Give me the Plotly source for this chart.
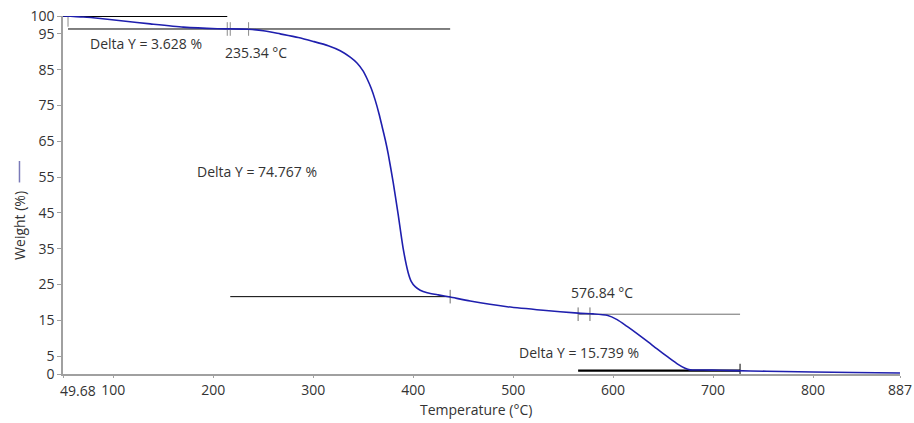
import plotly.graph_objects as go

# --- data ---
temperature = [49.68, 70, 87, 110, 137, 170, 204, 235, 250, 267, 285, 300, 315, 327, 337, 344,
               350, 354, 358, 362, 366, 369, 372, 375, 380, 385, 390, 395, 398, 402, 407, 414,
               425, 437, 457, 494, 530, 565, 580, 594, 604, 614, 624, 634, 644, 655, 665, 672,
               677, 690, 707, 737, 770, 800, 840, 887]
weight = [100.0, 99.7, 99.3, 98.6, 97.8, 96.9, 96.45, 96.3, 95.9, 95.0, 94.0, 92.9, 91.7, 90.3,
          88.5, 86.8, 84.6, 82.4, 79.8, 76.5, 72.5, 69.0, 65.5, 61.5, 53.5, 44.5, 35.0, 28.3,
          25.9, 24.4, 23.4, 22.7, 22.1, 21.5, 20.4, 18.8, 17.8, 17.0, 16.8, 16.4, 15.2, 13.3,
          11.3, 9.2, 7.0, 4.7, 2.7, 1.6, 1.15, 1.1, 1.05, 0.85, 0.7, 0.55, 0.4, 0.3]

x_start = 49.68
x_start_label = "49.68"
x_tickvals = [49.68, 100, 200, 300, 400, 500, 600, 700, 800, 887]
x_ticktext = ["", "100", "200", "300", "400", "500", "600", "700", "800", "887"]
y_tickvals = [0, 5, 15, 25, 35, 45, 55, 65, 75, 85, 95, 100]

# analysis baselines: (x_start, x_end, level, width, colour)
baseline_x0 = [49.68, 54.7, 217, 565, 565]
baseline_x1 = [214, 437, 437, 727, 727]
baseline_y = [100.0, 96.372, 21.605, 16.7, 0.961]
baseline_w = [2, 1, 1, 1, 2.2]
baseline_c = ["#000000", "#000000", "#000000", "#6e6e6e", "#000000"]

# small vertical markers: (x, level)
marker_x = [54.7, 214, 217, 235.34, 437, 565, 576.84, 727]
marker_y = [98.9, 96.372, 96.372, 96.372, 21.605, 16.7, 16.7, 0.961]
marker_c = ["#8a8a8a", "#8a8a8a", "#8a8a8a", "#8a8a8a", "#6e6e6e", "#6e6e6e", "#6e6e6e", "#000000"]

labels_text = ["Delta Y = 3.628 %", "235.34 °C", "Delta Y = 74.767 %", "576.84 °C", "Delta Y = 15.739 %"]
labels_x = [75, 210, 182, 556, 504]
labels_y = [92.2, 89.9, 56.5, 22.9, 6.1]

FONT = "Open Sans"
TXT = "#333333"
FS = 14

fig = go.Figure()

for x0, x1, yv, w, c in zip(baseline_x0, baseline_x1, baseline_y, baseline_w, baseline_c):
    fig.add_trace(go.Scatter(x=[x0, x1], y=[yv, yv], mode="lines",
                             line=dict(color=c, width=w), showlegend=False, hoverinfo="skip"))

for xm, ym, c in zip(marker_x, marker_y, marker_c):
    fig.add_trace(go.Scatter(x=[xm, xm], y=[ym - 1.9, ym + 1.9], mode="lines",
                             line=dict(color=c, width=1), showlegend=False, hoverinfo="skip"))

fig.add_trace(go.Scatter(x=temperature, y=weight, mode="lines",
                         line=dict(color="#1f1fae", width=1.6, shape="spline", smoothing=0.6),
                         showlegend=False, name="Weight"))

for t, xv, yv in zip(labels_text, labels_x, labels_y):
    fig.add_annotation(x=xv, y=yv, text=t, showarrow=False, xanchor="left", yanchor="middle",
                       font=dict(family=FONT, size=FS, color=TXT))

# first x tick label, nudged right like the reference
fig.add_annotation(x=x_start, y=0, text=x_start_label, showarrow=False, xanchor="left",
                   yanchor="top", xshift=-5, yshift=-5, font=dict(family=FONT, size=FS, color=TXT))

# axis titles and legend glyph
fig.add_annotation(xref="paper", yref="paper", x=-0.052, y=0.415, text="Weight (%)",
                   textangle=-90, showarrow=False, xanchor="center", yanchor="middle",
                   font=dict(family=FONT, size=FS, color=TXT))
fig.add_annotation(xref="paper", yref="paper", x=0.493, y=-0.10, text="Temperature (°C)",
                   showarrow=False, xanchor="center", yanchor="middle",
                   font=dict(family=FONT, size=FS, color=TXT))
fig.add_shape(type="line", xref="paper", yref="paper", x0=-0.052, x1=-0.052, y0=0.535, y1=0.595,
              line=dict(color="#7a7ab8", width=1.5))

fig.update_layout(
    width=914, height=423,
    margin=dict(l=63, r=14, t=16, b=49, autoexpand=False),
    paper_bgcolor="white", plot_bgcolor="white",
    font=dict(family=FONT, size=FS, color=TXT),
    xaxis=dict(range=[49.68, 887], tickvals=x_tickvals, ticktext=x_ticktext, automargin=False,
               showgrid=False, zeroline=False, showline=True, linecolor="#a0a0a0", linewidth=1.5,
               ticks="outside", ticklen=2, tickcolor="#a0a0a0"),
    yaxis=dict(range=[0, 100], tickvals=y_tickvals, showgrid=False, zeroline=False, automargin=False,
               showline=True, linecolor="#a0a0a0", linewidth=1.5,
               ticks="outside", ticklen=4, tickcolor="#a0a0a0"),
)

fig.write_html("out.html")
